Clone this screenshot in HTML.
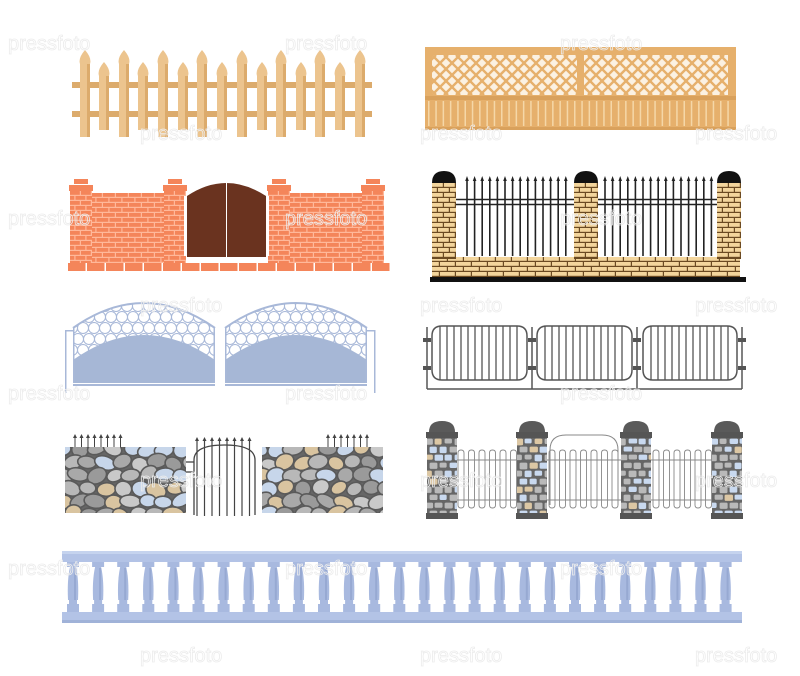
<!DOCTYPE html>
<html><head><meta charset="utf-8"><style>
html,body{margin:0;padding:0;background:#fff;}
svg{display:block}
</style></head><body>
<svg id="s" xmlns="http://www.w3.org/2000/svg" width="800" height="676" viewBox="0 0 800 676">
<defs>
<clipPath id="l1"><rect x="432" y="55" width="145" height="40"/></clipPath>
<clipPath id="l2"><rect x="584" y="55" width="144" height="40"/></clipPath>
<clipPath id="ba1"><path d="M73,328 Q144,278 215,328 L215,383 L73,383Z"/></clipPath>
<clipPath id="ba2"><path d="M225,328 Q296,278 367,328 L367,383 L225,383Z"/></clipPath>
<clipPath id="st1"><rect x="65" y="447" width="121" height="66"/></clipPath>
<clipPath id="st2"><rect x="262" y="447" width="121" height="66"/></clipPath>
<clipPath id="pc0"><rect x="427" y="438" width="30" height="76"/></clipPath>
<clipPath id="pc1"><rect x="517" y="438" width="30" height="76"/></clipPath>
<clipPath id="pc2"><rect x="621" y="438" width="30" height="76"/></clipPath>
<clipPath id="pc3"><rect x="712" y="438" width="30" height="76"/></clipPath>
</defs>
<g id="g"></g>
<g fill="none" stroke="#ececec" stroke-width="0.8" font-family="Liberation Sans, sans-serif" font-size="20">
<text x="8" y="50">pressfoto</text><text x="285" y="50">pressfoto</text><text x="560" y="50">pressfoto</text>
<text x="140" y="140">pressfoto</text><text x="420" y="140">pressfoto</text><text x="695" y="140">pressfoto</text>
<text x="8" y="225">pressfoto</text><text x="285" y="225">pressfoto</text><text x="560" y="225">pressfoto</text>
<text x="140" y="312">pressfoto</text><text x="420" y="312">pressfoto</text><text x="695" y="312">pressfoto</text>
<text x="8" y="400">pressfoto</text><text x="285" y="400">pressfoto</text><text x="560" y="400">pressfoto</text>
<text x="140" y="487">pressfoto</text><text x="420" y="487">pressfoto</text><text x="695" y="487">pressfoto</text>
<text x="8" y="575">pressfoto</text><text x="285" y="575">pressfoto</text><text x="560" y="575">pressfoto</text>
<text x="140" y="662">pressfoto</text><text x="420" y="662">pressfoto</text><text x="695" y="662">pressfoto</text>
</g>
</svg>
<script>
var o='';
function R(x,y,w,h,f,e){o+='<rect x="'+x+'" y="'+y+'" width="'+w+'" height="'+h+'" fill="'+f+'" '+(e||'')+'/>';}
function P(d,f,e){o+='<path d="'+d+'" fill="'+f+'" '+(e||'')+'/>';}
function L(x1,y1,x2,y2,c,w){o+='<line x1="'+x1+'" y1="'+y1+'" x2="'+x2+'" y2="'+y2+'" stroke="'+c+'" stroke-width="'+w+'"/>';}
var i,j,x,y;
// 1 picket fence
R(72,82,300,6,'#dcab6c');R(72,111,300,6,'#dcab6c');
var tall=[85,124,163,202,242,281,320,360],sh=[104,143,183,222,262,301,340];
function picket(cx,top,bot){P('M'+(cx-5)+','+(top+14)+' Q'+(cx-7)+','+(top+8)+' '+cx+','+top+' Q'+(cx+7)+','+(top+8)+' '+(cx+5)+','+(top+14)+' L'+(cx+5)+','+bot+' L'+(cx-5)+','+bot+'Z','#ecc48e');R(cx+2,top+14,3,bot-top-14,'#dcab6c');}
tall.forEach(function(c){picket(c,50,137);});sh.forEach(function(c){picket(c,62,130);});
// 2 lattice
R(425,47,311,83,'#e6b06c');R(432,55,145,40,'#fbf1e2');R(584,55,144,40,'#fbf1e2');
['l1','l2'].forEach(function(c){o+='<g clip-path="url(#'+c+')" stroke="#e6b06c" stroke-width="2.4">';for(i=-60;i<360;i+=12){o+='<line x1="'+(420+i)+'" y1="55" x2="'+(460+i)+'" y2="95"/><line x1="'+(460+i)+'" y1="55" x2="'+(420+i)+'" y2="95"/>';}o+='</g>';});
R(425,96,311,4,'#d9a15c');R(425,127,311,3,'#d9a15c');
for(x=428;x<734;x+=7.3){R(x,101,1.5,25,'#f5d7a8');}
// 3 red brick wall
function bricks(x0,y0,w,h,bh,bw,col,mort){R(x0,y0,w,h,mort);for(y=y0,j=0;y<y0+h-1;y+=bh,j++){for(x=x0-(j%2?bw/2:0);x<x0+w;x+=bw){var a=Math.max(x,x0),b=Math.min(x+bw-1.2,x0+w);if(b>a)R(a,y,b-a,Math.min(bh-1.2,y0+h-y),col);}}}
bricks(90,193,76,70,5,13,'#f4855a','#ffb89a');bricks(288,193,76,70,5,13,'#f4855a','#ffb89a');
[70,164,268,362].forEach(function(px){bricks(px,191,22,72,5,11,'#f4855a','#ffb89a');R(px-1,185,24,6,'#f4855a');R(px+4,179,14,5,'#f4855a');});
P('M187,196 Q226,170 266,196 L266,257 L187,257Z','#6a331f');L(226.5,183,226.5,257,'#fff',1);
R(184,196,3,60,'#fff');R(266,196,3,60,'#fff');
for(x=68;x<388;x+=19){R(x,263,17.5,8,'#f4855a');}
// 4 yellow brick + iron
for(x=467;x<572;x+=7.6){L(x,180,x,256,'#222',1.6);P('M'+(x-1.8)+',181 L'+x+',176 L'+(x+1.8)+',181Z','#222');}
for(x=605;x<715;x+=7.6){L(x,180,x,256,'#222',1.6);P('M'+(x-1.8)+',181 L'+x+',176 L'+(x+1.8)+',181Z','#222');}
L(455,199.5,718,199.5,'#222',1.5);L(455,204.5,718,204.5,'#222',1.5);
bricks(432,257,308,20,5,16,'#f3d59c','#6b4a22');
[432,574,717].forEach(function(px){bricks(px,183,24,76,5,12,'#f3d59c','#6b4a22');P('M'+px+',183 Q'+px+',171 '+(px+12)+',171 Q'+(px+24)+',171 '+(px+24)+',183Z','#111');});
R(430,277,316,5,'#111');
// 5 blue arch gates
[[73,'ba1'],[225,'ba2']].forEach(function(g){var gx=g[0];o+='<g clip-path="url(#'+g[1]+')" fill="none" stroke="#a8b8d8" stroke-width="1">';for(y=306,j=0;y<360;y+=11,j++){for(x=gx+(j%2?5:-1);x<gx+148;x+=11){o+='<circle cx="'+x+'" cy="'+y+'" r="5.5"/>';}}o+='</g>';
P('M'+gx+','+(303+25)+' Q'+(gx+71)+',278 '+(gx+142)+','+(328),'none','stroke="#a8b8d8" stroke-width="2"');
P('M'+gx+',360 Q'+(gx+71)+',310 '+(gx+142)+',360 L'+(gx+142)+',383 L'+gx+',383Z','#a6b7d6');
R(gx,328,1.5,55,'#a8b8d8');R(gx+140.5,328,1.5,55,'#a8b8d8');R(gx,384,142,2,'#a8b8d8');});
R(65,330,8,1.5,'#a8b8d8');R(65,330,1.5,63,'#a8b8d8');R(367,330,8,1.5,'#a8b8d8');R(374,330,1.5,63,'#a8b8d8');
// 6 iron panels
var pans=[[432,527],[537,632],[643,737]];
pans.forEach(function(p){P('M'+(p[0]+10)+',326 L'+(p[1]-10)+',326 Q'+p[1]+',326 '+p[1]+',336 L'+p[1]+',370 Q'+p[1]+',380 '+(p[1]-10)+',380 L'+(p[0]+10)+',380 Q'+p[0]+',380 '+p[0]+',370 L'+p[0]+',336 Q'+p[0]+',326 '+(p[0]+10)+',326Z','none','stroke="#555" stroke-width="1.5"');
for(x=p[0]+8;x<p[1]-4;x+=7){L(x,326,x,380,'#555',1.3);}});
L(427,389,742,389,'#555',1.5);[427,532,637,742].forEach(function(px){L(px,327,px,389,'#555',1.5);R(px-4,338,8,4,'#555');R(px-4,366,8,4,'#555');});
// 7 stone walls
var sc=['#b8b8b8','#9a9a9a','#c7d6ea','#d9c4a0','#a9a9a9','#c9c9c9'];var seed=7;function rnd(){seed=(seed*9301+49297)%233280;return seed/233280;}
[['st1',65],['st2',262]].forEach(function(s){R(s[1],447,121,66,'#666');o+='<g clip-path="url(#'+s[0]+')" stroke="#5a5a5a" stroke-width="1.6">';for(y=448,j=0;y<522;y+=13,j++){for(x=s[1]-4+(j%2?9:0);x<s[1]+130;x+=17){var rx=8+rnd()*3,ry=6+rnd()*2;o+='<ellipse cx="'+(x+rnd()*4)+'" cy="'+(y+rnd()*3)+'" rx="'+rx+'" ry="'+ry+'" fill="'+sc[Math.floor(rnd()*6)]+'" transform="rotate('+(rnd()*60-30)+' '+x+' '+y+')"/>';}}o+='</g>';});
[[75,121],[328,373]].forEach(function(a){for(x=a[0];x<=a[1];x+=6.5){L(x,437,x,447,'#444',1);P('M'+(x-2)+',438 L'+x+',434 L'+(x+2)+',438Z','#444');}});
P('M194,515 L194,460 Q194,445 224.5,445 Q255,445 255,460 L255,515','none','stroke="#444" stroke-width="1.3"');
for(x=197;x<254;x+=7.5){L(x,441,x,516,'#444',1.2);P('M'+(x-2)+',441 L'+x+',437 L'+(x+2)+',441Z','#444');}
L(186,462,194,462,'#444',1.3);L(186,472,194,472,'#444',1.3);
// 8 stone pillars + white fence
function picketRow(a,b){for(x=a+2;x<b-6;x+=10.5){P('M'+x+',505 L'+x+',453 Q'+x+',450 '+(x+3)+',450 Q'+(x+6)+',450 '+(x+6)+',453 L'+(x+6)+',505 Q'+(x+6)+',508 '+(x+3)+',508 Q'+x+',508 '+x+',505Z','#fff','stroke="#888" stroke-width="0.9"');}L(a,460,b,460,'#888',1);L(a,500,b,500,'#888',1);}
picketRow(456,517);picketRow(651,712);picketRow(547,621);
P('M550,505 L550,450 Q550,435 566,435 L602,435 Q618,435 618,450 L618,505','none','stroke="#888" stroke-width="1"');
[427,517,621,712].forEach(function(px,k){R(px,438,30,76,'#666');o+='<g clip-path="url(#pc'+k+')" stroke="#666" stroke-width="1.2">';for(y=438,j=0;y<516;y+=8,j++){for(x=px-3+(j%2?5:0);x<px+32;x+=10){var c=rnd()<0.25?'#c9d9ef':(rnd()<0.12?'#dcc7a4':'#b9b9b9');o+='<rect x="'+x+'" y="'+y+'" width="'+(8+rnd()*2)+'" height="'+(6+rnd()*2)+'" rx="2" fill="'+c+'"/>';}}o+='</g>';
R(px-1,432,32,6,'#555');R(px-1,513,32,6,'#555');P('M'+(px+2)+',432 Q'+(px+2)+',421 '+(px+15)+',421 Q'+(px+28)+',421 '+(px+28)+',432Z','#5a5a5a');});
// 9 balustrade
R(62,551,680,11,'#b3c3e6');R(62,551,680,3,'#c5d3ee');R(62,612,680,11,'#b3c3e6');R(62,620,680,3,'#a0b2d8');
for(x=73;x<735;x+=25.1){R(x-6,562,12,5,'#a8b9df');P('M'+(x-3)+',567 Q'+(x-6)+',580 '+(x-5)+',600 L'+(x+5)+',600 Q'+(x+6)+',580 '+(x+3)+',567Z','#a8b9df');R(x-4,600,8,4,'#a8b9df');R(x-6,604,12,8,'#a8b9df');R(x+1,568,2,32,'#97a9d2');}
document.getElementById('g').innerHTML=o;
</script>
</body></html>
